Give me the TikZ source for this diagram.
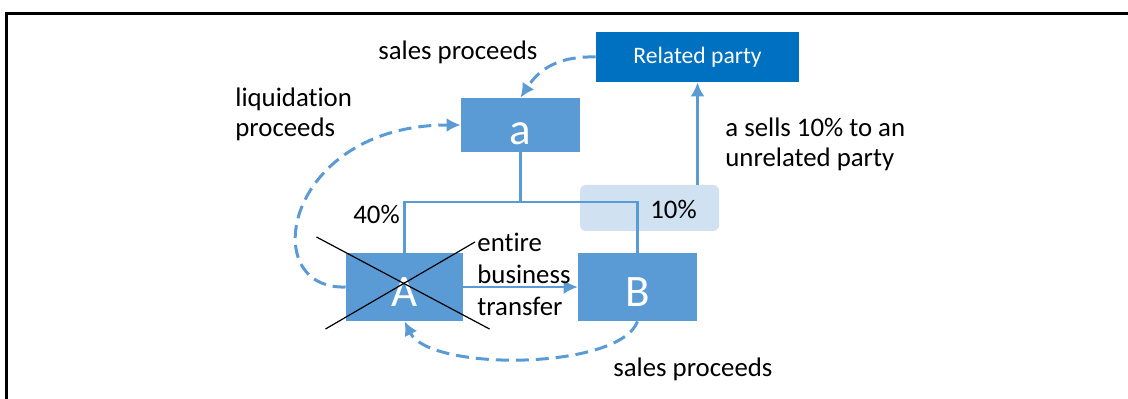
\documentclass[tikz,border=0pt]{standalone}
\usepackage{fontspec}
\setmainfont{Carlito}[Ligatures=NoCommon]
\usetikzlibrary{arrows.meta}
\definecolor{boxblue}{RGB}{91,155,213}
\definecolor{relblue}{RGB}{0,112,192}
\definecolor{paleblue}{RGB}{208,225,242}

\begin{document}
\begin{tikzpicture}[x=0.5pt, y=-0.5pt,
		>={Latex[length=7pt,width=7pt]},   %Pfeilspitzen
		unit/.style={fill=boxblue, text=white, inner sep=0pt, text height=20pt, text depth=0pt, font=\fontsize{22.5}{27}\selectfont},
		related/.style={fill=relblue, text=white, inner sep=0pt, minimum width=101.5pt, minimum height=25pt, font=\fontsize{11.8}{14}\selectfont},
		share/.style={fill=paleblue, rounded corners=3pt, minimum width=69.5pt, minimum height=23pt},
		link/.style={draw=boxblue, line width=1.4pt},
		flow/.style={draw=boxblue, line width=1.5pt, dash pattern=on 6.5pt off 3.5pt},
		strike/.style={draw=black, line width=0.6pt},
		lbl/.style={inner sep=0pt, align=left, font=\fontsize{13.4}{15}\selectfont}]
	%Bildbereich und Rahmen
	\useasboundingbox (0,0) rectangle (1128,399);
	\draw[line width=1.5pt] (6.5,399) -- (6.5,13.5) -- (1128,13.5);
	% Kaesten
	\node[related] (rel) at (697.5,57) {Related party};
	\node[unit, minimum width=59.5pt, minimum height=27pt] (a) at (520.5,125) {a};
	\node[unit, minimum width=58.5pt, minimum height=34pt] (A) at (404.5,287) {A};
	\node[unit, minimum width=59.5pt, minimum height=34pt] (B) at (637.5,287) {B};
	\node[share] (pct) at (649.5,208) {};
	% Beteiligungen
	\coordinate (bar) at (520.5,202);
	\draw[link] (a.south) -- (bar);
	\draw[link] (A.north) |- (bar) -| (B.north);
	\draw[link, ->] (pct.north -| rel.south) -- (rel.south);
	\draw[->, draw=boxblue, line width=0.75pt] (A.east) -- (B.west);
	% A durchgestrichen
	\draw[strike] ([shift={(-88,-50)}]A.center) -- ([shift={(85,42)}]A.center);
	\draw[strike] ([shift={(-79,42)}]A.center) -- ([shift={(70.5,-45)}]A.center);
	% Geldfluesse
	\draw[flow, ->] (rel.west) .. controls (560,56) and (540,68) .. (a.north);
	\draw[flow, ->] (A.west) .. controls (255,290) and (285,125) .. (a.west);
	\draw[flow, ->] (B.south) .. controls (620,370) and (430,372) .. (A.south);
	% Beschriftung (base = letzte Zeile)
	\node[lbl, anchor=base west] (salestop) at (378,60) {sales proceeds};
	\node[lbl, anchor=base west] (liq) at (235,137) {liquidation\\proceeds};
	\node[lbl, anchor=base west] (sells) at (725,166.7) {a sells 10\% to an\\unrelated party};
	\node[lbl, anchor=base west] (pcttext) at (650,219) {10\%};
	\node[lbl, anchor=base west] (forty) at (353,224) {40\%};
	\node[lbl, anchor=base west, font=\fontsize{13.4}{16}\selectfont] (ebt) at (477,316) {entire\\business\\transfer};
	\node[lbl, anchor=base west] (salesbot) at (613,376.5) {sales proceeds};
\end{tikzpicture}
\end{document}
